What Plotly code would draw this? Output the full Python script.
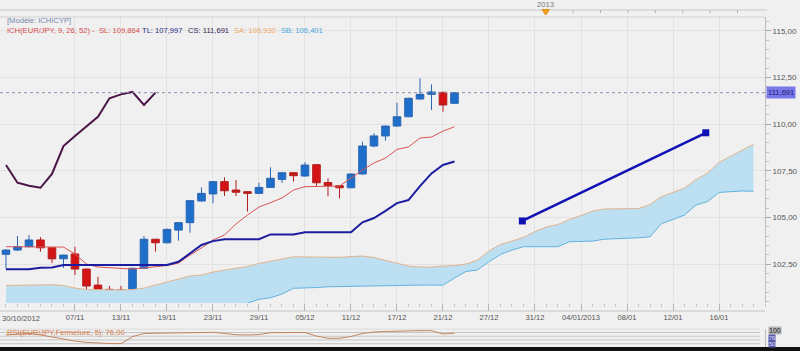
import plotly.graph_objects as go

# ---------------- data ----------------
idx = list(range(40))
open_ = [103.02, 103.25, 103.43, 103.79, 103.37, 102.78, 103.04, 102.23, 101.37, 101.14,
         101.11, 100.93, 102.27, 103.83, 103.64, 104.32, 104.72, 105.88, 106.26, 106.92,
         106.47, 106.38, 106.29, 106.61, 107.04, 107.40, 107.22, 107.83, 106.87, 106.70,
         106.59, 107.33, 108.83, 109.37, 109.90, 110.40, 111.35, 111.60, 111.71, 111.12]
high = [103.30, 104.00, 104.06, 103.95, 103.40, 103.00, 103.43, 102.25, 101.82, 101.32,
        101.32, 102.30, 104.00, 103.85, 104.40, 104.75, 105.92, 106.61, 106.95, 107.15,
        107.01, 106.40, 106.86, 107.69, 107.42, 107.42, 107.96, 107.85, 107.10, 106.72,
        107.35, 109.06, 109.51, 109.92, 111.15, 111.42, 112.46, 112.14, 111.73, 111.72]
low = [102.25, 103.20, 103.40, 103.16, 102.55, 102.29, 101.91, 101.16, 100.53, 100.94,
       100.42, 100.90, 102.25, 103.16, 103.60, 103.75, 104.18, 105.85, 105.76, 106.15,
       106.15, 105.31, 106.25, 106.58, 106.86, 106.92, 107.20, 106.67, 106.13, 106.02,
       106.57, 107.30, 108.76, 109.12, 109.88, 110.38, 111.33, 110.76, 110.67, 111.08]
close = [103.25, 103.43, 103.79, 103.37, 102.78, 102.98, 102.23, 101.32, 101.11, 101.05,
         100.89, 102.27, 103.83, 103.64, 104.36, 104.72, 105.90, 106.29, 106.92, 106.43,
         106.35, 106.29, 106.61, 107.10, 107.40, 107.24, 107.81, 106.86, 106.70, 106.59,
         107.33, 108.83, 109.37, 109.90, 110.40, 111.39, 111.60, 111.73, 111.03, 111.691]

tenkan = [103.43, 103.43, 103.43, 103.43, 103.43, 103.41, 103.04, 102.50, 102.34, 102.31,
          102.29, 102.23, 102.29, 102.34, 102.42, 102.55, 102.98, 103.36, 103.79, 104.06,
          104.65, 105.13, 105.56, 105.79, 106.04, 106.47, 106.65, 106.66, 106.68, 106.68,
          107.11, 107.54, 107.92, 108.18, 108.65, 108.78, 109.26, 109.31, 109.63, 109.864]
kijun = [102.22, 102.22, 102.22, 102.30, 102.32, 102.45, 102.45, 102.45, 102.45, 102.45,
         102.45, 102.45, 102.45, 102.45, 102.45, 102.62, 103.07, 103.52, 103.73, 103.83,
         103.83, 103.83, 103.83, 104.09, 104.09, 104.09, 104.20, 104.20, 104.20, 104.20,
         104.20, 104.74, 104.97, 105.35, 105.77, 105.93, 106.68, 107.36, 107.81, 107.997]

cloud_idx = list(range(66))
senkou_a = [101.35, 101.37, 101.37, 101.38, 101.39, 101.35, 101.21, 101.13, 101.11, 101.11,
            101.11, 101.13, 101.21, 101.37, 101.53, 101.72, 101.86, 101.91, 102.07, 102.18,
            102.26, 102.37, 102.53, 102.66, 102.77, 102.89, 102.88, 102.86, 102.85, 102.86,
            102.90, 102.93, 102.85, 102.71, 102.53, 102.39, 102.34, 102.34, 102.39, 102.42,
            102.50, 102.71, 103.20, 103.55, 103.73, 103.93, 104.24, 104.49, 104.62, 104.89,
            105.10, 105.34, 105.45, 105.45, 105.45, 105.48, 105.69, 106.12, 106.34, 106.58,
            107.03, 107.38, 107.95, 108.27, 108.59, 108.930]
senkou_b = [99.90, 99.90, 99.90, 99.90, 99.90, 99.90, 99.90, 99.90, 99.90, 99.90,
            99.90, 99.90, 99.90, 99.90, 99.90, 99.95, 99.95, 100.00, 100.00, 100.05,
            100.15, 100.40, 100.61, 100.69, 100.89, 101.20, 101.21, 101.24, 101.28, 101.29,
            101.32, 101.35, 101.36, 101.37, 101.37, 101.37, 101.37, 101.37, 101.37, 101.75,
            102.10, 102.18, 102.63, 103.01, 103.25, 103.43, 103.43, 103.43, 103.43, 103.70,
            103.71, 103.73, 103.83, 103.85, 103.88, 103.91, 103.96, 104.67, 104.89, 105.13,
            105.67, 105.85, 106.34, 106.39, 106.42, 106.401]

rsi = [66.7, 70, 75, 67, 56, 42, 34, 27, 22.5, 21,
       20, 58, 75, 76, 76, 76, 77, 79.5, 81, 75,
       68, 66.7, 69, 79, 79.5, 80.5, 80.5, 61, 49, 49,
       58.6, 75, 82.8, 85.5, 88, 90, 90, 90, 72, 76]

trend_x = [44.9, 60.85]
trend_y = [104.81, 109.54]

first_label = "30/10/2012"
tick_pos = [6, 10, 14, 18, 22, 26, 30, 34, 38, 42, 46, 50, 54, 58, 62]
tick_lab = ["07/11", "13/11", "19/11", "23/11", "29/11", "05/12", "11/12",
            "17/12", "21/12", "27/12", "31/12", "04/01/2013", "08/01", "12/01", "16/01"]
ytick_vals = [102.5, 105, 107.5, 110, 112.5, 115]
ytick_text = ["102,50", "105,00", "107,50", "110,00", "112,50", "115,00"]
last_price = 111.691

# ---------------- layout helpers ----------------
W, H = 800, 351
ML, MR, MT, MB = 0, 35, 17, 4
PW = W - ML - MR
PH = H - MT - MB


def px(x):
    return (x - ML) / PW


def py(y):
    return (H - MB - y) / PH


FONT = "Liberation Sans"
BG = "#f0f0f0"
GRID = "#e2e2e2"

fig = go.Figure()

# cloud
fig.add_trace(go.Scatter(x=cloud_idx, y=senkou_b, mode="lines",
                         line=dict(color="#62b2e0", width=1), hoverinfo="skip"))
fig.add_trace(go.Scatter(x=cloud_idx, y=senkou_a, mode="lines", fill="tonexty",
                         fillcolor="#bddff2", line=dict(color="#e3b48e", width=1),
                         hoverinfo="skip"))

# candles
fig.add_trace(go.Candlestick(x=idx, open=open_, high=high, low=low, close=close,
                             increasing=dict(line=dict(color="#2a66b4", width=1),
                                             fillcolor="#1e6fcc"),
                             decreasing=dict(line=dict(color="#b41e1e", width=1),
                                             fillcolor="#d41414"),
                             whiskerwidth=0))

# tenkan / kijun / chikou
fig.add_trace(go.Scatter(x=idx, y=tenkan, mode="lines",
                         line=dict(color="#d95555", width=1)))
fig.add_trace(go.Scatter(x=idx, y=kijun, mode="lines",
                         line=dict(color="#1c1ca0", width=2)))
chik_x = [i - 26 for i in idx[26:]]
fig.add_trace(go.Scatter(x=chik_x, y=close[26:], mode="lines",
                         line=dict(color="#4a1446", width=2)))

# trend line
fig.add_trace(go.Scatter(x=trend_x, y=trend_y, mode="lines+markers",
                         line=dict(color="#1010b4", width=2.5),
                         marker=dict(symbol="square", size=7, color="#1010b4")))

# RSI
fig.add_trace(go.Scatter(x=idx, y=rsi, mode="lines", xaxis="x2", yaxis="y2",
                         line=dict(color="#c4845e", width=1)))

shapes = []
for lv in [20, 40, 60, 80, 100]:
    shapes.append(dict(type="line", xref="paper", yref="y2", x0=0, x1=px(760), y0=lv, y1=lv,
                       line=dict(color="#c6c6c6", width=1), layer="below"))
shapes.append(dict(type="line", xref="paper", yref="y", x0=0, x1=1, y0=last_price, y1=last_price,
                   line=dict(color="#8c8cb0", width=1, dash="dot")))
shapes.append(dict(type="line", xref="paper", yref="paper", x0=0, x1=1, y0=py(311), y1=py(311),
                   line=dict(color="#c4c4c4", width=1)))
shapes.append(dict(type="line", xref="paper", yref="paper", x0=0, x1=1, y0=1, y1=1,
                   line=dict(color="#d0d0d0", width=1)))
shapes.append(dict(type="line", xref="paper", yref="paper", x0=0, x1=px(767), y0=py(10), y1=py(10),
                   line=dict(color="#c8c8c8", width=1)))
for k in range(1, 8):
    xx = px(545.7 + 27.4 * k)
    shapes.append(dict(type="line", xref="paper", yref="paper", x0=xx, x1=xx, y0=py(10), y1=py(13),
                       line=dict(color="#b0b0b0", width=1)))
shapes.append(dict(type="path", xref="paper", yref="paper",
                   path="M {a},{b} L {c},{b} L {d},{e} Z".format(
                       a=px(542), c=px(549.5), d=px(545.7), b=py(9.5), e=py(15)),
                   fillcolor="#f0a020", line=dict(color="#e09010", width=1)))
shapes.append(dict(type="rect", xref="paper", yref="paper", x0=-0.01, x1=px(801),
                   y0=py(352), y1=py(347), fillcolor="#111111", line=dict(width=0)))

ann = []


def text_at(x, y, s, color, size=7.6, xanchor="left", **kw):
    ann.append(dict(xref="paper", yref="paper", x=px(x), y=py(y), text=s, showarrow=False,
                    xanchor=xanchor, yanchor="middle",
                    font=dict(family=FONT, size=size, color=color), **kw))


text_at(5, 21, "[Modèle: ICHICYP]", "#7886aa")
text_at(5, 30, "ICH(EUR/JPY, 9, 26, 52) -", "#d84a4a")
text_at(97, 30, "SL: 109,864", "#d84a4a")
text_at(140, 30, "TL: 107,997", "#2a2a86")
text_at(186, 30, "CS: 111,691", "#3a2058")
text_at(232, 30, "SA: 108,930", "#f2aa66")
text_at(279, 30, "SB: 106,401", "#4aa6e0")
text_at(545.7, 5, "2013", "#777777", xanchor="center")
text_at(0, 318.5, first_label, "#555555")
text_at(5, 332, "RSI(EUR/JPY,Fermeture, 5): 76,00", "#d4763e")
text_at(768, 330, "100", "#222222", size=7, bgcolor="#b4b4b4", borderpad=0)
text_at(768, 337.5, "76", "#e0e0ff", size=5.5, bgcolor="#5a5aa8", borderpad=0)
text_at(768, 344, "50", "#e0e0ff", size=5.5, bgcolor="#5a5aa8", borderpad=0)

ann.append(dict(xref="paper", yref="y", x=px(766), y=last_price, text="111,691",
                showarrow=False, xanchor="left", yanchor="middle",
                font=dict(family=FONT, size=7.6, color="#1a1a7a"),
                bgcolor="#7878e8", borderpad=1))

fig.update_layout(
    width=W, height=H,
    margin=dict(l=ML, r=MR, t=MT, b=MB, pad=0),
    paper_bgcolor=BG, plot_bgcolor=BG,
    showlegend=False,
    boxgap=0.34, boxgroupgap=0,
    font=dict(family=FONT, size=8, color="#555555"),
    xaxis=dict(range=[-0.52, 66.0], tickmode="array", tickvals=tick_pos, ticktext=tick_lab,
               showgrid=True, gridcolor=GRID, gridwidth=1, zeroline=False,
               ticks="outside", ticklen=7, tickcolor="#b4b4b4", showline=False,
               minor=dict(ticks="outside", ticklen=3, dtick=1, tick0=0, tickcolor="#c4c4c4",
                          showgrid=False),
               tickfont=dict(family=FONT, size=7.6, color="#555555"),
               rangeslider=dict(visible=False), anchor="y", fixedrange=True),
    yaxis=dict(domain=[py(303), 1], range=[100.41, 115.75], side="right",
               tickmode="array", tickvals=ytick_vals, ticktext=ytick_text,
               showgrid=True, gridcolor=GRID, zeroline=False,
               ticks="outside", ticklen=5, tickcolor="#a8a8a8",
               showline=True, linecolor="#bcbcbc",
               minor=dict(ticks="outside", ticklen=3, dtick=0.5, tick0=0, tickcolor="#c4c4c4",
                          showgrid=False),
               tickfont=dict(family=FONT, size=8, color="#555555"), anchor="x"),
    xaxis2=dict(matches="x", anchor="y2", showticklabels=False, showgrid=False,
                zeroline=False, ticks=""),
    yaxis2=dict(domain=[0, py(328.8)], range=[2, 100], showticklabels=False, showgrid=False,
                zeroline=False, ticks="", anchor="x2", side="right", showline=True,
                linecolor="#bcbcbc"),
    shapes=shapes,
    annotations=ann,
)

fig.write_html("out.html")
